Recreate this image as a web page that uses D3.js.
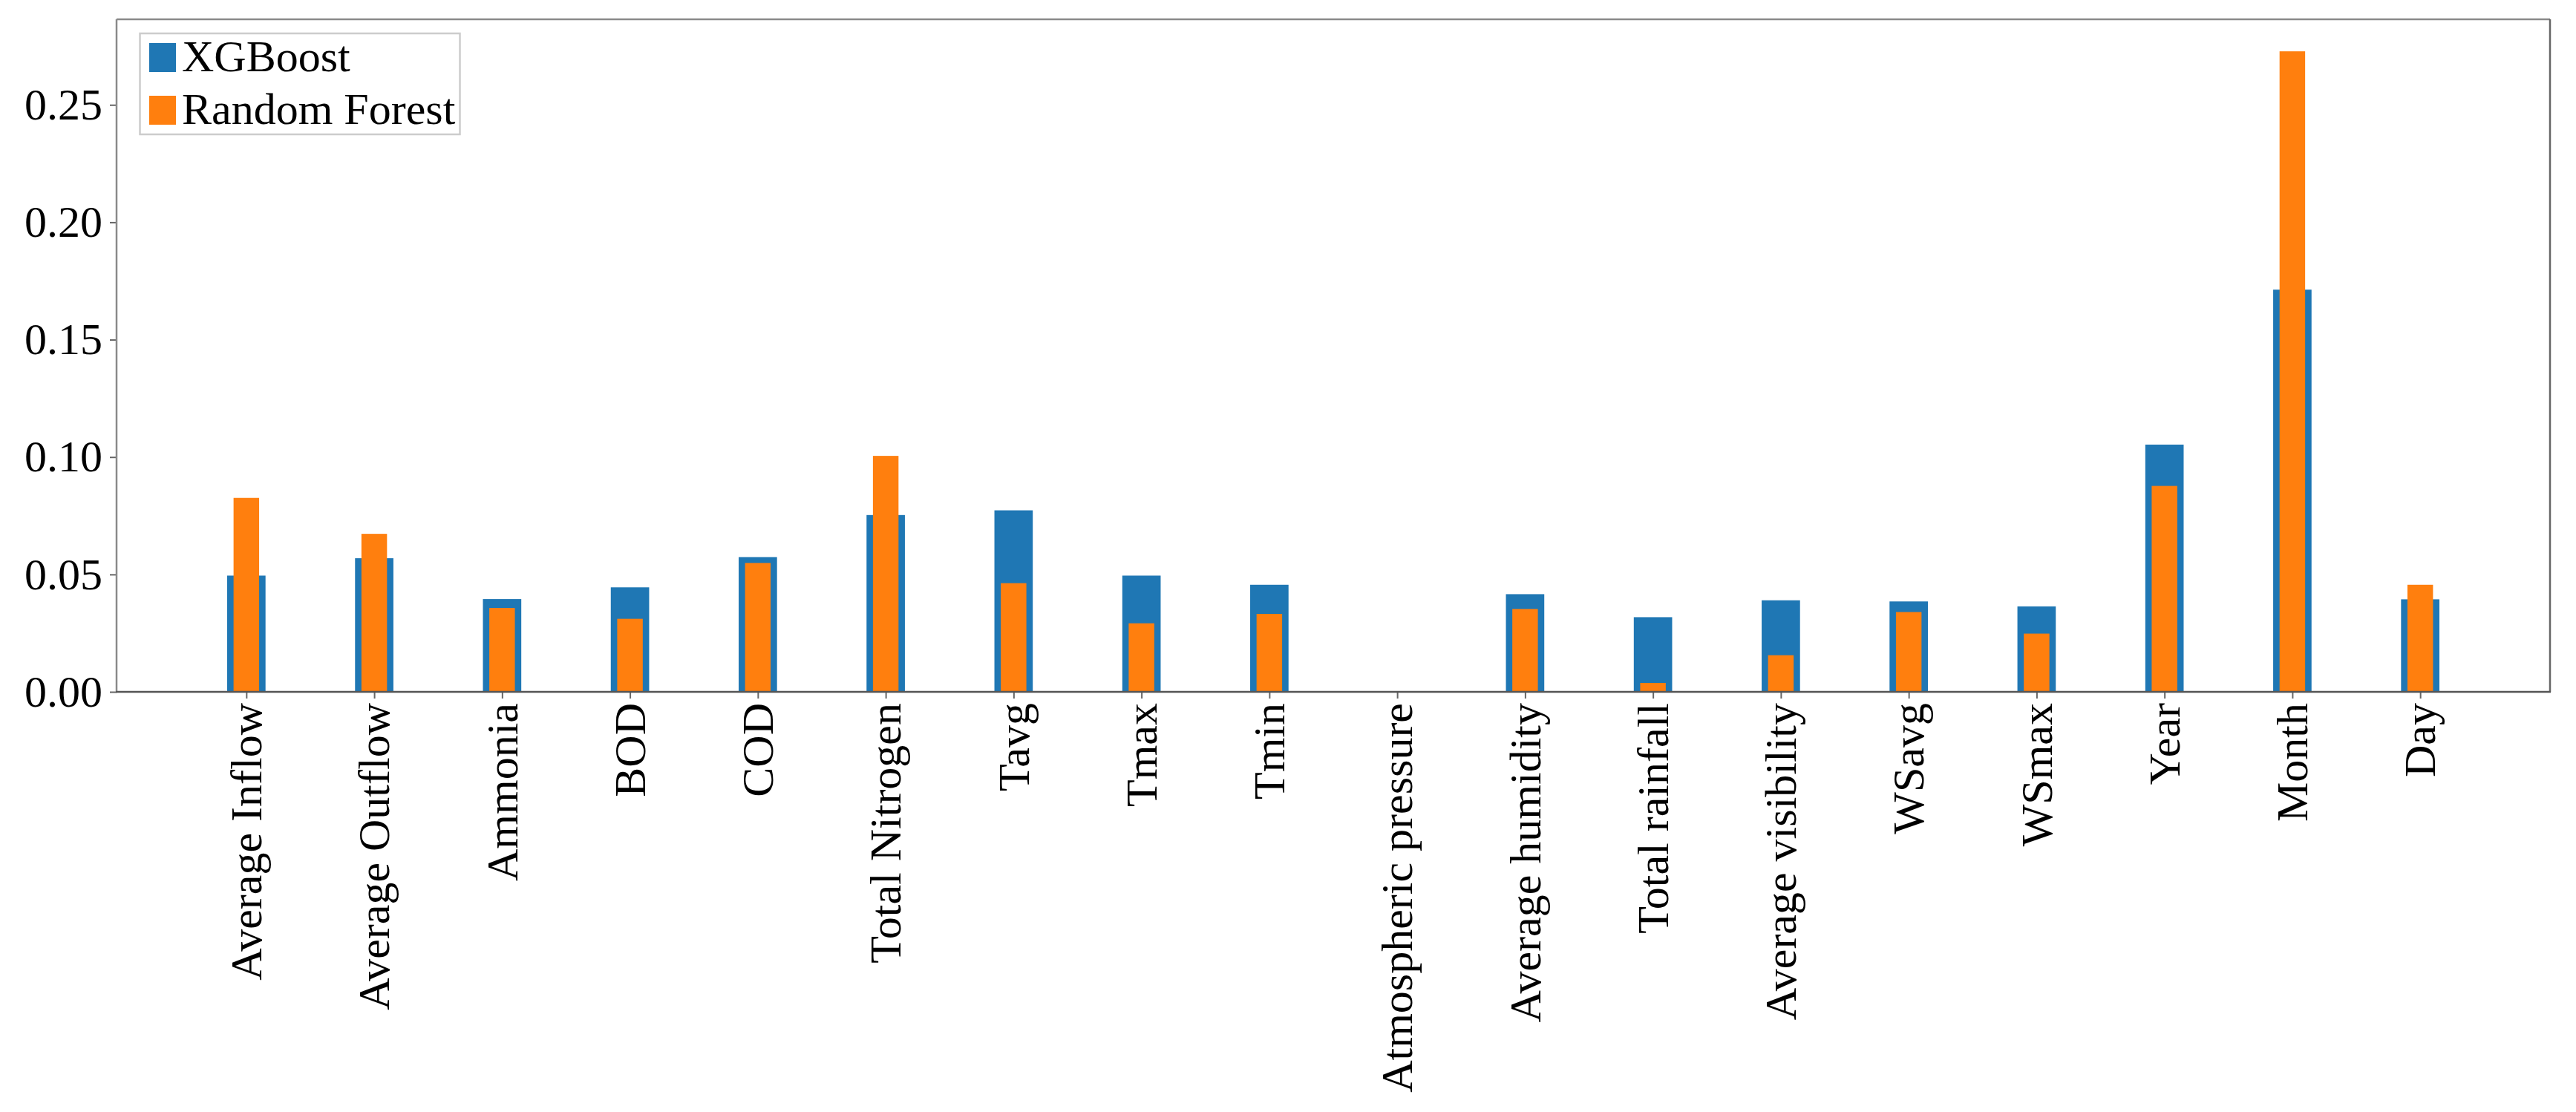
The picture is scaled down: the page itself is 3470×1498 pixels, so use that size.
<!DOCTYPE html>
<html>
<head>
<meta charset="utf-8">
<script src="https://cdn.jsdelivr.net/npm/d3@7"></script>
<style>
  html, body { margin: 0; padding: 0; background: #fff; }
  svg { display: block; }
  text { font-family: "Liberation Serif", "Times New Roman", serif; }
</style>
</head>
<body>
<script>
const categories = ["Average Inflow", "Average Outflow", "Ammonia", "BOD", "COD", "Total Nitrogen",
  "Tavg", "Tmax", "Tmin", "Atmospheric pressure", "Average humidity", "Total rainfall",
  "Average visibility", "WSavg", "WSmax", "Year", "Month", "Day"];
const xgboostValues = [0.0495, 0.0569, 0.0395, 0.0445, 0.0574, 0.0753, 0.0773, 0.0495, 0.0456, 0,
  0.0416, 0.0318, 0.039, 0.0385, 0.0364, 0.1053, 0.1713, 0.0394];
const randomForestValues = [0.0826, 0.0673, 0.0357, 0.0311, 0.0549, 0.1005, 0.0463, 0.0292, 0.0332, 0,
  0.0353, 0.0038, 0.0156, 0.034, 0.0248, 0.0877, 0.2728, 0.0456];
const yTicks = [0, 0.05, 0.10, 0.15, 0.20, 0.25];
const seriesNames = ["XGBoost", "Random Forest"];
const seriesColors = ["#1f77b4", "#ff7f0e"];

(function () {
const W = 3470, H = 1498;
const pLeft = 157, pRight = 3435, pTop = 26, pBottom = 932;
const fontSize = 60;

const svg = d3.select("body").append("svg").attr("width", W).attr("height", H);
svg.append("rect").attr("width", W).attr("height", H).attr("fill", "#fff");

const n = categories.length;
const x = d3.scaleLinear().domain([-1.015, n - 1 + 1.015]).range([pLeft, pRight]);
const yMax = d3.max(randomForestValues.concat(xgboostValues)) * 1.05;
const y = d3.scaleLinear().domain([0, yMax]).range([pBottom, pTop]);
const unit = x(1) - x(0);

const series = [
  { name: seriesNames[0], values: xgboostValues, width: 0.3, color: seriesColors[0] },
  { name: seriesNames[1], values: randomForestValues, width: 0.2, color: seriesColors[1] }
];
series.forEach(s => {
  svg.append("g").selectAll("rect").data(s.values).join("rect")
    .attr("x", (d, i) => x(i - s.width / 2))
    .attr("width", s.width * unit)
    .attr("y", d => y(d))
    .attr("height", d => y(0) - y(d))
    .attr("fill", s.color);
});

// Y axis
const yAxis = d3.axisLeft(y).tickValues(yTicks).tickFormat(d3.format(".2f")).tickSize(9).tickPadding(10);
const gy = svg.append("g").attr("transform", `translate(${pLeft},0)`).call(yAxis);
gy.select(".domain").remove();
gy.selectAll(".tick line").attr("stroke", "#666").attr("stroke-width", 2);
gy.selectAll(".tick text").attr("font-size", fontSize).attr("fill", "#000")
  .attr("font-family", "Liberation Serif, Times New Roman, serif").attr("dy", "0.32em");

// X axis
const xAxis = d3.axisBottom(x).tickValues(d3.range(n)).tickFormat(i => categories[i]).tickSize(9).tickPadding(0);
const gx = svg.append("g").attr("transform", `translate(0,${pBottom})`).call(xAxis);
gx.select(".domain").remove();
gx.selectAll(".tick line").attr("stroke", "#666").attr("stroke-width", 2);
gx.selectAll(".tick text")
  .attr("font-size", fontSize).attr("fill", "#000")
  .attr("font-family", "Liberation Serif, Times New Roman, serif")
  .attr("text-anchor", "end")
  .attr("y", 0).attr("dy", "0.33em")
  .attr("transform", "translate(0,15) rotate(-90)");

// Spines
const spine = svg.append("g").attr("fill", "none");
spine.append("line").attr("x1", pLeft).attr("x2", pRight).attr("y1", pTop).attr("y2", pTop).attr("stroke", "#8a8a8a").attr("stroke-width", 2.5);
spine.append("line").attr("x1", pLeft).attr("x2", pLeft).attr("y1", pTop).attr("y2", pBottom).attr("stroke", "#8a8a8a").attr("stroke-width", 2.5);
spine.append("line").attr("x1", pRight).attr("x2", pRight).attr("y1", pTop).attr("y2", pBottom).attr("stroke", "#666").attr("stroke-width", 2.5);
spine.append("line").attr("x1", pLeft - 1).attr("x2", pRight + 1).attr("y1", pBottom).attr("y2", pBottom).attr("stroke", "#555").attr("stroke-width", 2.5);

// Legend
const lg = svg.append("g");
lg.append("rect").attr("x", 188.5).attr("y", 45).attr("width", 431).attr("height", 136)
  .attr("fill", "#fff").attr("stroke", "#cccccc").attr("stroke-width", 2.5);
const rowY = [58, 129];
series.forEach((s, i) => {
  lg.append("rect").attr("x", 201).attr("y", rowY[i]).attr("width", 36).attr("height", 39).attr("fill", s.color);
  lg.append("text").attr("x", 245).attr("y", rowY[i] + 38).attr("font-size", fontSize)
    .attr("fill", "#000").text(s.name);
});
})();
</script>
</body>
</html>
